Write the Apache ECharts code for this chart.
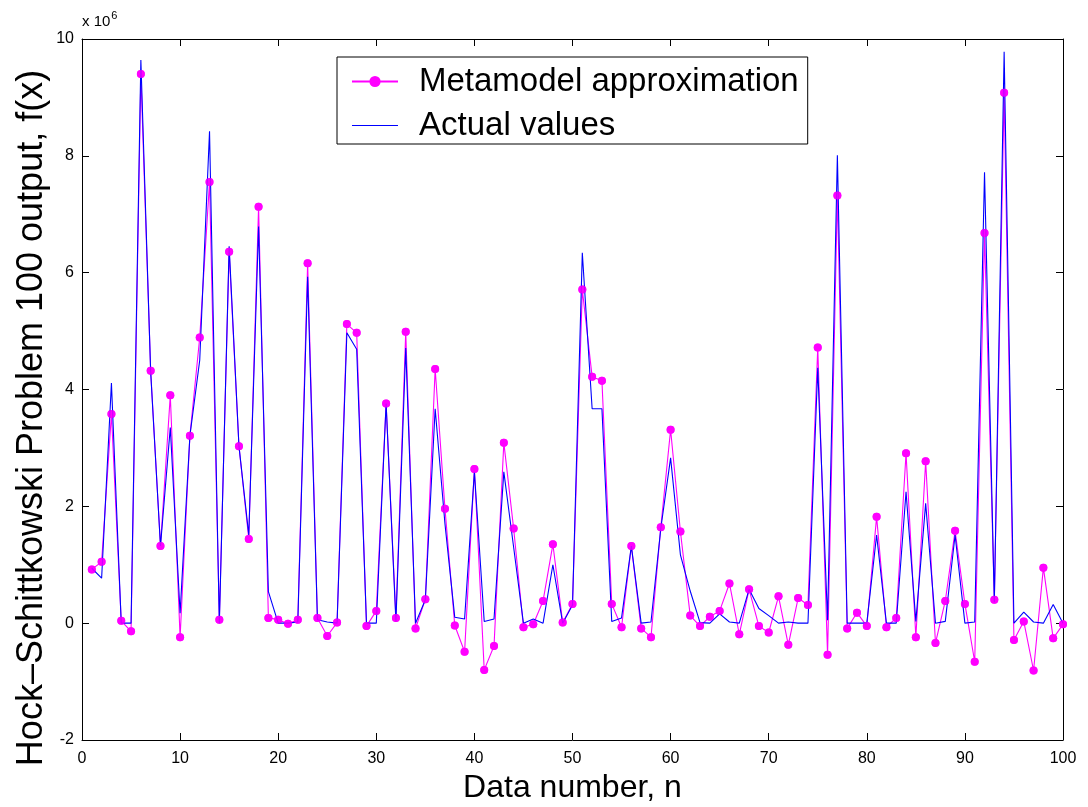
<!DOCTYPE html>
<html>
<head>
<meta charset="utf-8">
<script src="https://cdn.jsdelivr.net/npm/echarts@6/dist/echarts.min.js"></script>
<style>
html,body{margin:0;padding:0;background:#fff;}
#chart{width:1088px;height:807px;}
</style>
</head>
<body>
<div id="chart"></div>
<script>
// Data number n = 1..100
const dataNumbers = Array.from({length: 100}, (_, i) => i + 1);

// Metamodel approximation (x 10^6)
const metamodel = [
  0.92, 1.05, 3.58, 0.04, -0.14, 9.40, 4.32, 1.32, 3.90, -0.24,
  3.21, 4.89, 7.55, 0.06, 6.36, 3.03, 1.44, 7.13, 0.09, 0.06,
  -0.01, 0.06, 6.16, 0.09, -0.22, 0.01, 5.12, 4.97, -0.05, 0.21,
  3.76, 0.09, 4.99, -0.09, 0.41, 4.35, 1.96, -0.04, -0.49, 2.64,
  -0.80, -0.39, 3.09, 1.62, -0.07, -0.02, 0.38, 1.35, 0.01, 0.33,
  5.71, 4.22, 4.15, 0.33, -0.07, 1.32, -0.09, -0.24, 1.64, 3.31,
  1.57, 0.13, -0.05, 0.11, 0.21, 0.68, -0.19, 0.58, -0.05, -0.16,
  0.46, -0.37, 0.43, 0.31, 4.72, -0.54, 7.32, -0.09, 0.18, -0.05,
  1.82, -0.07, 0.09, 2.91, -0.24, 2.77, -0.34, 0.38, 1.58, 0.33,
  -0.66, 6.68, 0.40, 9.08, -0.29, 0.03, -0.81, 0.95, -0.26, -0.02
];

// Actual values (x 10^6)
const actual = [
  0.94, 0.77, 4.11, 0.00, 0.00, 9.64, 4.30, 1.32, 3.35, 0.17,
  3.21, 4.50, 8.42, 0.00, 6.45, 3.03, 1.51, 6.79, 0.54, 0.00,
  0.00, 0.02, 5.93, 0.06, 0.02, 0.00, 4.97, 4.69, 0.00, 0.00,
  3.76, 0.03, 4.71, 0.00, 0.40, 3.67, 1.70, 0.10, 0.07, 2.59,
  0.03, 0.07, 2.59, 1.30, 0.00, 0.07, 0.00, 1.00, 0.00, 0.31,
  6.34, 3.67, 3.67, 0.03, 0.09, 1.32, 0.00, 0.02, 1.62, 2.83,
  1.17, 0.55, 0.01, 0.00, 0.16, 0.02, 0.00, 0.58, 0.25, 0.13,
  0.00, 0.02, 0.00, 0.00, 4.37, 0.05, 8.01, 0.00, 0.00, 0.00,
  1.51, 0.00, 0.00, 2.25, 0.03, 2.05, 0.00, 0.03, 1.51, 0.00,
  0.02, 7.72, 0.36, 9.78, 0.00, 0.19, 0.02, 0.00, 0.32, 0.00
];

const xTicks = {min: 0, max: 100, interval: 10};
const yTicks = {min: -2, max: 10, interval: 2};

const seriesNames = ['Metamodel approximation', 'Actual values'];
const xLabel = 'Data number, n';
const yLabel = 'Hock\u2013Schittkowski Problem 100 output, f(x)';

const FONT = '"Liberation Sans", Arial, Helvetica, sans-serif';

const metaPts = dataNumbers.map((n, i) => [n, metamodel[i]]);
const actPts = dataNumbers.map((n, i) => [n, actual[i]]);

const chart = echarts.init(document.getElementById('chart'), null, {renderer: 'canvas'});

const baseAxis = {
  axisLine: {show: true, onZero: false, lineStyle: {color: '#000', width: 1}},
  axisTick: {show: true, inside: true, length: 7, lineStyle: {color: '#000'}},
  splitLine: {show: false}
};

chart.setOption({
  animation: false,
  backgroundColor: '#fff',
  grid: {left: 82, top: 39, width: 981, height: 701, containLabel: false, outerBoundsMode: 'none'},
  legend: {
    data: [
      {name: seriesNames[0]},
      {name: seriesNames[1], icon: 'path://M0,0H46V1H0Z'}
    ],
    orient: 'vertical',
    left: 337,
    top: 57,
    padding: [8, 9, 2, 14],
    itemGap: 11,
    itemWidth: 46,
    itemHeight: 14,
    symbolKeepAspect: true,
    borderColor: '#000',
    borderWidth: 1,
    borderRadius: 0,
    backgroundColor: '#fff',
    textStyle: {fontFamily: FONT, fontSize: 33, color: '#000', padding: [0, 0, 0, 16]}
  },
  xAxis: [
    Object.assign({}, baseAxis, {
      type: 'value', min: xTicks.min, max: xTicks.max, interval: xTicks.interval,
      position: 'bottom',
      axisLabel: {color: '#000', fontFamily: FONT, fontSize: 16, margin: 11},
      name: xLabel, nameLocation: 'middle', nameGap: 32,
      nameTextStyle: {fontFamily: FONT, fontSize: 32, color: '#000'}
    }),
    Object.assign({}, baseAxis, {
      type: 'value', min: xTicks.min, max: xTicks.max, interval: xTicks.interval,
      position: 'top', axisLabel: {show: false}
    })
  ],
  yAxis: [
    Object.assign({}, baseAxis, {
      type: 'value', min: yTicks.min, max: yTicks.max, interval: yTicks.interval,
      position: 'left',
      axisLabel: {color: '#000', fontFamily: FONT, fontSize: 16, margin: 8}
    }),
    Object.assign({}, baseAxis, {
      type: 'value', min: yTicks.min, max: yTicks.max, interval: yTicks.interval,
      position: 'right', axisLabel: {show: false}
    })
  ],
  graphic: [
    {
      type: 'text',
      left: 82,
      top: 10,
      style: {
        text: '{a|x 10}{b|6}',
        rich: {
          a: {fontFamily: FONT, fontSize: 15, fill: '#000', verticalAlign: 'bottom'},
          b: {fontFamily: FONT, fontSize: 11, fill: '#000', verticalAlign: 'top', padding: [0, 0, 8, 1]}
        }
      }
    },
    {
      type: 'text',
      x: 32,
      y: 418,
      rotation: Math.PI / 2,
      style: {
        text: yLabel,
        fontFamily: FONT,
        fontSize: 36,
        fill: '#000',
        align: 'center',
        verticalAlign: 'middle'
      }
    }
  ],
  series: [
    {
      name: seriesNames[0],
      type: 'line',
      data: metaPts,
      z: 2,
      symbol: 'circle',
      symbolSize: 8,
      showSymbol: true,
      itemStyle: {color: '#ff00ff'},
      lineStyle: {color: '#ff00ff', width: 1.1}
    },
    {
      name: seriesNames[1],
      type: 'line',
      data: actPts,
      z: 3,
      symbol: 'none',
      itemStyle: {color: '#0000ff'},
      lineStyle: {color: '#0000ff', width: 1.1}
    },
    {
      name: 'metaMarkers',
      type: 'scatter',
      data: metaPts,
      z: 4,
      symbol: 'circle',
      symbolSize: 8,
      itemStyle: {color: '#ff00ff'}
    }
  ]
});
</script>
</body>
</html>
